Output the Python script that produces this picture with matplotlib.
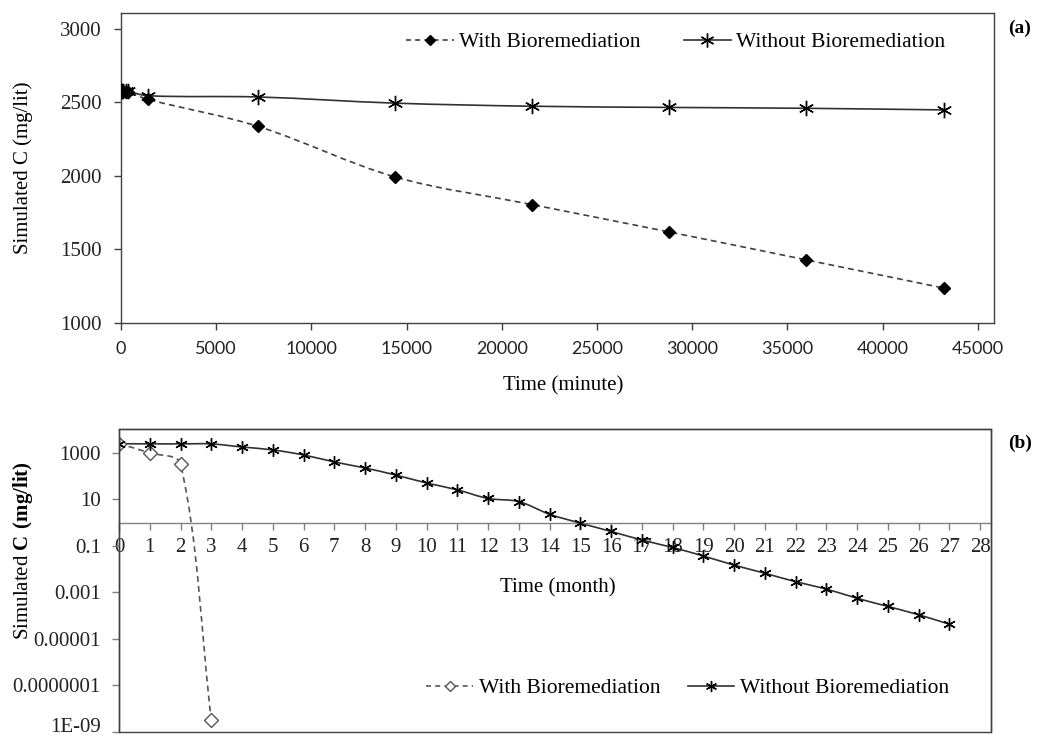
import numpy as np
import matplotlib
matplotlib.use("Agg")
import matplotlib.pyplot as plt
import matplotlib.transforms as mtransforms
from matplotlib.path import Path
from matplotlib.patches import PathPatch, Rectangle
from matplotlib.lines import Line2D
from matplotlib.ticker import FixedLocator, FixedFormatter, NullLocator

# ---- data -------------------------------------------------------------
# (a) short-term simulation, time in minutes
minutes_a = [0, 60, 120, 240, 360, 1440, 7200, 14400, 21600, 28800, 36000, 43200]
with_bio_a = [2578, 2577, 2575, 2573, 2570, 2520, 2337, 1993, 1805, 1619, 1429, 1238]
without_bio_a = [2578, 2578, 2577, 2576, 2575, 2545, 2537, 2495, 2474, 2466, 2460, 2449]

# (b) long-term simulation, time in months
months_with_b = [0, 1, 2, 3]
with_bio_b = [2500, 1000, 340, 3.3e-9]
months_without_b = list(range(28))
without_bio_b = [2500, 2450, 2450, 2450, 1800, 1350, 820, 410, 225, 112, 51, 26,
                 11, 8.1, 2.3, 0.96, 0.42, 0.18, 0.086, 0.037, 0.015, 0.0067,
                 0.0029, 0.0014, 0.00056, 0.00025, 0.00011, 4.3e-5]

a_xticks = list(range(0, 45001, 5000))
a_yticks = [1000, 1500, 2000, 2500, 3000]
b_xticks = list(range(0, 29))
b_yticks = [1e3, 1e1, 1e-1, 1e-3, 1e-5, 1e-7, 1e-9]
b_ytick_labels = ["1000", "10", "0.1", "0.001", "0.00001", "0.0000001", "1E-09"]

label_with = "With Bioremediation"
label_without = "Without Bioremediation"

# ---- style ------------------------------------------------------------
SERIF = "Liberation Serif"
SANS = "Lato"
plt.rcParams["font.family"] = SERIF
plt.rcParams["mathtext.fontset"] = "custom"
plt.rcParams["mathtext.rm"] = SERIF
plt.rcParams["mathtext.bf"] = SERIF + ":bold"
plt.rcParams["axes.unicode_minus"] = False

AXIS_COLOR = "#404040"
DASH_COLOR = "#404040"
SOLID_COLOR = "#303030"
STAR = (6, 2, 0)


def smooth_patch(ax, x, y, **kw):
    """Smoothed polyline (Bezier through the points, computed in screen space)."""
    pts = ax.transData.transform(np.column_stack([x, y]))
    n = len(pts)
    verts = [pts[0]]
    codes = [Path.MOVETO]
    for i in range(n - 1):
        p0 = pts[i - 1] if i > 0 else pts[i]
        p1, p2 = pts[i], pts[i + 1]
        p3 = pts[i + 2] if i + 2 < n else pts[i + 1]
        d01 = np.hypot(*(p1 - p0))
        d12 = np.hypot(*(p2 - p1))
        d23 = np.hypot(*(p3 - p2))
        s1 = d12 / (d01 + d12) if d01 + d12 > 0 else 0.0
        s2 = d12 / (d12 + d23) if d12 + d23 > 0 else 0.0
        c1 = p1 + (p2 - p0) * s1 / 3.0
        c2 = p2 - (p3 - p1) * s2 / 3.0
        verts += [c1, c2, p2]
        codes += [Path.CURVE4] * 3
    data_verts = ax.transData.inverted().transform(np.array(verts))
    patch = PathPatch(Path(data_verts, codes), fill=False, transform=ax.transData, **kw)
    ax.add_patch(patch)
    return patch


W, H = 1037, 737
fig = plt.figure(figsize=(W / 100, H / 100), dpi=100)

# ---- panel (a) --------------------------------------------------------
ax1 = fig.add_axes([121 / W, 1 - 323 / H, (994 - 121) / W, (323 - 13) / H])
ax1.set_xlim(0, 45850)
ax1.set_ylim(1000, 3108)
for s in ax1.spines.values():
    s.set_color(AXIS_COLOR)
    s.set_linewidth(1.0)
ax1.xaxis.set_major_locator(FixedLocator(a_xticks))
ax1.yaxis.set_major_locator(FixedLocator(a_yticks))
ax1.tick_params(axis="both", direction="out", length=5, width=1, color=AXIS_COLOR)
ax1.tick_params(axis="y", labelsize=15, pad=9, labelcolor="#222222")
ax1.tick_params(axis="x", labelsize=13, pad=8, labelcolor="#222222")
for lab in ax1.get_xticklabels():
    lab.set_fontfamily(SANS)

smooth_patch(ax1, minutes_a, with_bio_a, edgecolor=DASH_COLOR, linewidth=1.2,
             linestyle=(0, (3.5, 2.5)), zorder=2)
smooth_patch(ax1, minutes_a, without_bio_a, edgecolor=SOLID_COLOR, linewidth=1.2,
             linestyle="-", zorder=2)
ax1.plot(minutes_a, with_bio_a, linestyle="none", marker="D", markersize=6.5,
         color="black", zorder=3)
ax1.plot(minutes_a, without_bio_a, linestyle="none", marker=STAR, markersize=11,
         markeredgewidth=1.0, color="black", zorder=3)

ax1.set_ylabel("Simulated C (mg/lit)", fontsize=15)
ax1.yaxis.label.set_va("center")
ax1.yaxis.set_label_coords((23 - 121) / (994 - 121), 0.5)
ax1.set_xlabel("Time (minute)", fontsize=15)
ax1.xaxis.label.set_va("center")
ax1.xaxis.set_label_coords((563 - 121) / (994 - 121), (323 - 386) / (323 - 13))

handles_a = [
    Line2D([], [], color=DASH_COLOR, linestyle=(0, (3, 2.5)), linewidth=1.2,
           marker="D", markersize=5, markerfacecolor="black", markeredgecolor="black"),
    Line2D([], [], color=SOLID_COLOR, linestyle="-", linewidth=1.2,
           marker=STAR, markersize=10, markeredgecolor="black"),
]
ax1.legend(handles_a, [label_with, label_without], loc="center",
           bbox_to_anchor=((676 - 121) / (994 - 121), (323 - 42) / (323 - 13)),
           ncol=2, frameon=False, prop={"family": SERIF, "size": 15.5},
           handlelength=2.2, handletextpad=0.25, columnspacing=2.0)

fig.text(1020 / W, 1 - 28 / H, "(a)", fontsize=14, fontweight="bold",
         ha="center", va="center")

# ---- panel (b) --------------------------------------------------------
ax2 = fig.add_axes([119 / W, 1 - 732 / H, (991 - 119) / W, (732 - 429) / H])
ax2.set_yscale("log")
ax2.set_xlim(0, 28.35)
ax2.set_ylim(1e-9, 1.07e4)
for s in ax2.spines.values():
    s.set_color(AXIS_COLOR)
    s.set_linewidth(1.0)
ax2.spines["bottom"].set_position(("data", 1))
ax2.spines["bottom"].set_color("#808080")
ax2.add_patch(Rectangle((0, 0), 1, 1, transform=ax2.transAxes, fill=False,
                        edgecolor=AXIS_COLOR, linewidth=1.0, zorder=5, clip_on=False))
ax2.xaxis.set_major_locator(FixedLocator(b_xticks))
ax2.yaxis.set_major_locator(FixedLocator(b_yticks))
ax2.yaxis.set_major_formatter(FixedFormatter(b_ytick_labels))
ax2.yaxis.set_minor_locator(NullLocator())
ax2.tick_params(axis="both", direction="out", length=5, width=1, color="#808080")
ax2.tick_params(axis="y", labelsize=15, pad=8, labelcolor="#222222")
ax2.tick_params(axis="x", labelsize=15, pad=6, labelcolor="#222222")

smooth_patch(ax2, months_with_b, with_bio_b, edgecolor="#555555", linewidth=1.2,
             linestyle=(0, (3.5, 2.5)), zorder=2)
smooth_patch(ax2, months_without_b, without_bio_b, edgecolor=SOLID_COLOR,
             linewidth=1.2, linestyle="-", zorder=2)
ax2.plot(months_with_b, with_bio_b, linestyle="none", marker="D", markersize=7,
         markerfacecolor="white", markeredgecolor="#555555", markeredgewidth=1.0,
         zorder=3)
ax2.plot(months_without_b, without_bio_b, linestyle="none", marker=STAR,
         markersize=9, markeredgewidth=1.0, color="black", zorder=3)

ax2.set_ylabel(r"Simulated $\mathbf{C\ (mg/lit)}$", fontsize=15)
ax2.yaxis.label.set_va("center")
ax2.yaxis.set_label_coords((23 - 119) / (991 - 119), (732 - 551) / (732 - 429))
ax2.set_xlabel("Time (month)", fontsize=15)
ax2.xaxis.label.set_va("center")
ax2.xaxis.set_label_coords((558 - 119) / (991 - 119), (732 - 588) / (732 - 429))

# keep the lowest tick label inside the figure
fig.canvas.draw()
lowest = ax2.get_yticklabels()[-1]
lowest.set_transform(lowest.get_transform() +
                     mtransforms.ScaledTranslation(0, 5 / 72, fig.dpi_scale_trans))

handles_b = [
    Line2D([], [], color="#555555", linestyle=(0, (3, 2.5)), linewidth=1.2,
           marker="D", markersize=5.5, markerfacecolor="white",
           markeredgecolor="#555555"),
    Line2D([], [], color=SOLID_COLOR, linestyle="-", linewidth=1.2,
           marker=STAR, markersize=8, markeredgecolor="black"),
]
ax2.legend(handles_b, [label_with, label_without], loc="center",
           bbox_to_anchor=((688 - 119) / (991 - 119), (732 - 688) / (732 - 429)),
           ncol=2, frameon=False, prop={"family": SERIF, "size": 15.5},
           handlelength=2.15, handletextpad=0.28, columnspacing=1.3)

fig.text(1020 / W, 1 - 443 / H, "(b)", fontsize=14, fontweight="bold",
         ha="center", va="center")

fig.savefig("out.png", dpi=100)
